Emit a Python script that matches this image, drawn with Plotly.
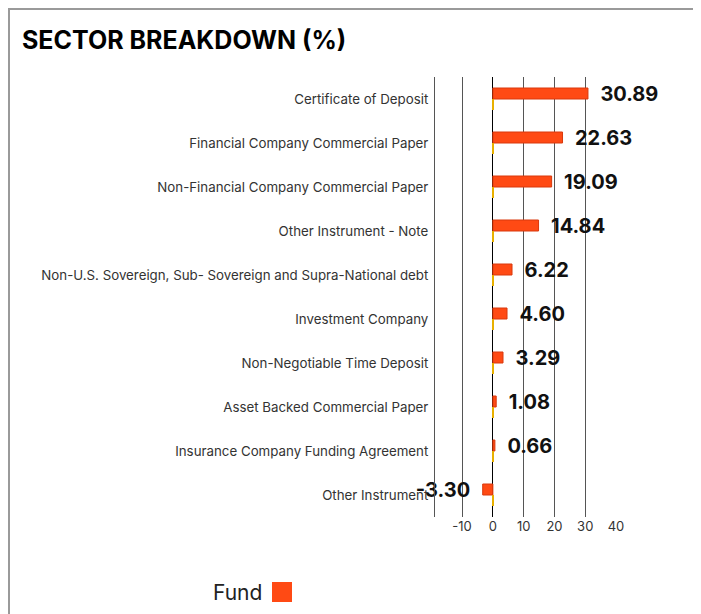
import plotly.graph_objects as go

categories = [
    "Certificate of Deposit",
    "Financial Company Commercial Paper",
    "Non-Financial Company Commercial Paper",
    "Other Instrument - Note",
    "Non-U.S. Sovereign, Sub- Sovereign and Supra-National debt",
    "Investment Company",
    "Non-Negotiable Time Deposit",
    "Asset Backed Commercial Paper",
    "Insurance Company Funding Agreement",
    "Other Instrument",
]
fund_values = [30.89, 22.63, 19.09, 14.84, 6.22, 4.60, 3.29, 1.08, 0.66, -3.30]
benchmark_values = [0.2] * len(categories)
x_ticks = [-10, 0, 10, 20, 30, 40]
x_tick_labels = ["-10", "0", "10", "20", "30", "40"]

OFF = 8  # page body margin
W, H = 701, 614
L, R, T, B = 435 - OFF, 616 - OFF, 77 - OFF, 517 - OFF
pw, ph = R - L, B - T

def px(x):
    return (x - OFF - L) / pw

def py(y):
    return (B - (y - OFF)) / ph

FONT = "Inter, Roboto, sans-serif"

fig = go.Figure()
fig.add_trace(go.Bar(
    y=categories, x=fund_values, orientation="h", name="Fund",
    marker=dict(color="#ff4a14", line=dict(color="#d9380c", width=1)),
    text=["\u00a0\u00a0" + f"{v:.2f}" + "\u00a0\u00a0" for v in fund_values],
    texttemplate="%{text}", textposition="outside", constraintext="none",
    textfont=dict(family=FONT, size=20, color="#111111", weight=700),
    cliponaxis=False, showlegend=False,
))
fig.add_trace(go.Bar(
    y=categories, x=benchmark_values, orientation="h", name="Benchmark",
    marker=dict(color="#e8b000", line=dict(width=0)),
    showlegend=False, hoverinfo="skip",
))

fig.update_layout(
    width=W, height=H,
    margin=dict(l=L, r=W - R, t=T, b=H - B),
    paper_bgcolor="white", plot_bgcolor="white",
    barmode="group", bargap=0.5, bargroupgap=0,
    showlegend=False,
    title=dict(text="<b>SECTOR BREAKDOWN (%)</b>", x=(22 - OFF) / W, xanchor="left",
               xref="container", y=1 - (40 - OFF) / H, yanchor="middle", yref="container",
               font=dict(family=FONT, size=25, color="#000000", weight=900)),
    font=dict(family=FONT),
    xaxis=dict(range=[-18.8, 40], tickvals=x_ticks, ticktext=x_tick_labels,
               showgrid=True, gridcolor="#555555",
               gridwidth=1, zeroline=True, zerolinecolor="#000000", zerolinewidth=1,
               showline=False, ticks="", tickfont=dict(size=13, color="#333333"),
               fixedrange=True),
    yaxis=dict(autorange="reversed", showline=True, linecolor="#555555", linewidth=1,
               ticks="", ticklabelstandoff=3, tickfont=dict(size=13.3, color="#333333"),
               showgrid=False),
)

fig.add_shape(type="rect", xref="paper", yref="paper",
              x0=px(9), x1=px(695), y0=py(680), y1=py(9),
              line=dict(color="#9a9a9a", width=2), fillcolor="rgba(0,0,0,0)", layer="below")

fig.add_annotation(text="Fund", xref="paper", yref="paper", x=px(211), y=py(592),
                   xanchor="left", yanchor="middle", showarrow=False,
                   font=dict(family=FONT, size=21, color="#222222"))
fig.add_shape(type="rect", xref="paper", yref="paper",
              x0=px(272), x1=px(292), y0=py(602), y1=py(582),
              line=dict(width=0), fillcolor="#ff4a14")

fig.write_html("out.html")
